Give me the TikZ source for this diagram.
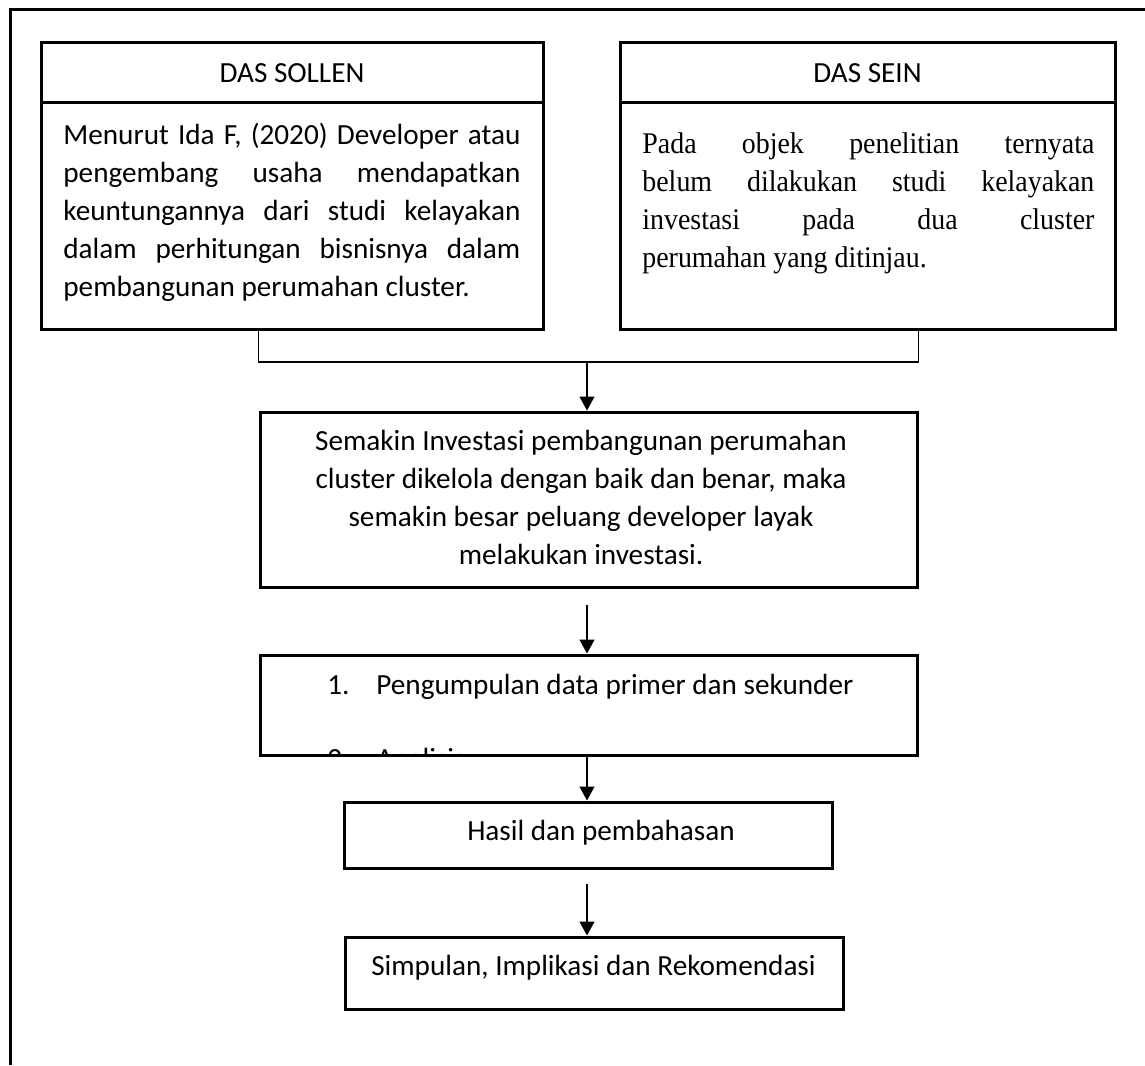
\documentclass[tikz,border=0pt]{standalone}
\usepackage{fontspec}
\setmainfont{Carlito}
\newfontfamily\seinfont[FakeStretch=0.93]{Liberation Serif}
\usetikzlibrary{arrows.meta}

\newlength{\du}
\setlength{\du}{10pt}
\newcommand{\bodysize}{\fontsize{14.6pt}{19pt}\selectfont}
\newcommand{\jline}[1]{\makebox[\linewidth][s]{#1}\\}

\tikzset{
  kotak/.style={draw, rectangle, inner sep=0pt, line width=1.5pt},
  teks/.style={inner sep=0pt, font=\bodysize},
  link/.style={line width=0.7pt},
  flow/.style={line width=0.7pt, -{Triangle[length=7pt,width=7.5pt]}}
}

\begin{document}
\begin{tikzpicture}
\pgftransformxscale{1.000000}
\pgftransformyscale{-1.000000}
\definecolor{dialinecolor}{rgb}{0.000000, 0.000000, 0.000000}
\pgfsetstrokecolor{dialinecolor}
\useasboundingbox (0\du,0\du) rectangle (57.25\du,53.25\du);
\fill[white] (0\du,0\du) rectangle (57.25\du,53.25\du);
% frame
\draw[line width=1.5pt] (0.5\du,53.25\du)--(0.5\du,0.5\du)--(57.25\du,0.5\du);
% das sollen
\node[kotak, minimum width=25.1\du, minimum height=3\du, font=\bodysize] (sollenhead) at (14.6\du,3.65\du) {DAS SOLLEN};
\node[kotak, minimum width=25.1\du, minimum height=11.3\du] (sollen) at (14.6\du,10.8\du) {};
\node[teks, anchor=base west] (sollentxt) at (3.15\du,7.2\du) {\parbox[t]{228.5pt}{\jline{Menurut Ida F, (2020) Developer atau}\jline{pengembang usaha mendapatkan}\jline{keuntungannya dari studi kelayakan}\jline{dalam perhitungan bisnisnya dalam}pembangunan perumahan cluster.}};
% das sein
\node[kotak, minimum width=24.75\du, minimum height=3\du, font=\bodysize] (seinhead) at (43.375\du,3.65\du) {DAS SEIN};
\node[kotak, minimum width=24.75\du, minimum height=11.3\du] (sein) at (43.375\du,10.8\du) {};
\node[teks, anchor=base west] (seintxt) at (32.1\du,7.7\du) {\parbox[t]{226pt}{\seinfont\fontsize{15pt}{19pt}\selectfont\jline{Pada objek penelitian ternyata}\jline{belum dilakukan studi kelayakan}\jline{investasi pada dua cluster}perumahan yang ditinjau.}};
% semakin
\node[kotak, minimum width=32.85\du, minimum height=8.75\du] (semakin) at (29.425\du,24.975\du) {};
\node[teks, anchor=base] (semakintxt) at (29.05\du,22.5\du) {\parbox[t]{32\du}{\centering Semakin Investasi pembangunan perumahan\\cluster dikelola dengan baik dan benar, maka\\semakin besar peluang developer layak\\melakukan investasi.}};
% pengumpulan
\node[kotak, minimum width=32.85\du, minimum height=5\du] (kumpul) at (29.425\du,35.25\du) {};
\node[teks, anchor=base west] (kumpul1) at (16.35\du,34.7\du) {\makebox[24.5pt][l]{1.}Pengumpulan data primer dan sekunder};
\begin{scope}
\clip (kumpul.north west) rectangle (kumpul.south east);
\node[teks, anchor=base west] (kumpul2) at (16.35\du,38.4\du) {\makebox[24.5pt][l]{2.}Analisis};
\end{scope}
% hasil
\node[kotak, minimum width=24.4\du, minimum height=3.3\du] (hasil) at (29.4\du,41.75\du) {};
\node[teks, anchor=base] (hasiltxt) at (30.05\du,42\du) {Hasil dan pembahasan};
% simpulan
\node[kotak, minimum width=24.9\du, minimum height=3.6\du] (simpulan) at (29.7\du,48.65\du) {};
\node[teks, anchor=base] (simpulantxt) at (29.675\du,48.75\du) {Simpulan, Implikasi dan Rekomendasi};
% connectors
\coordinate (join) at (29.35\du,18.1\du);
\draw[link] (sollen.south -| semakin.west) |- (join) -| (sein.south -| semakin.east);
\draw[flow] (join) -- (join |- semakin.north);
\draw[flow, shorten <=8pt] (semakin.south -| join) -- (kumpul.north -| join);
\draw[flow] (kumpul.south -| join) -- (hasil.north -| join);
\draw[flow, shorten <=7pt] (hasil.south -| join) -- (simpulan.north -| join);
\end{tikzpicture}
\end{document}
